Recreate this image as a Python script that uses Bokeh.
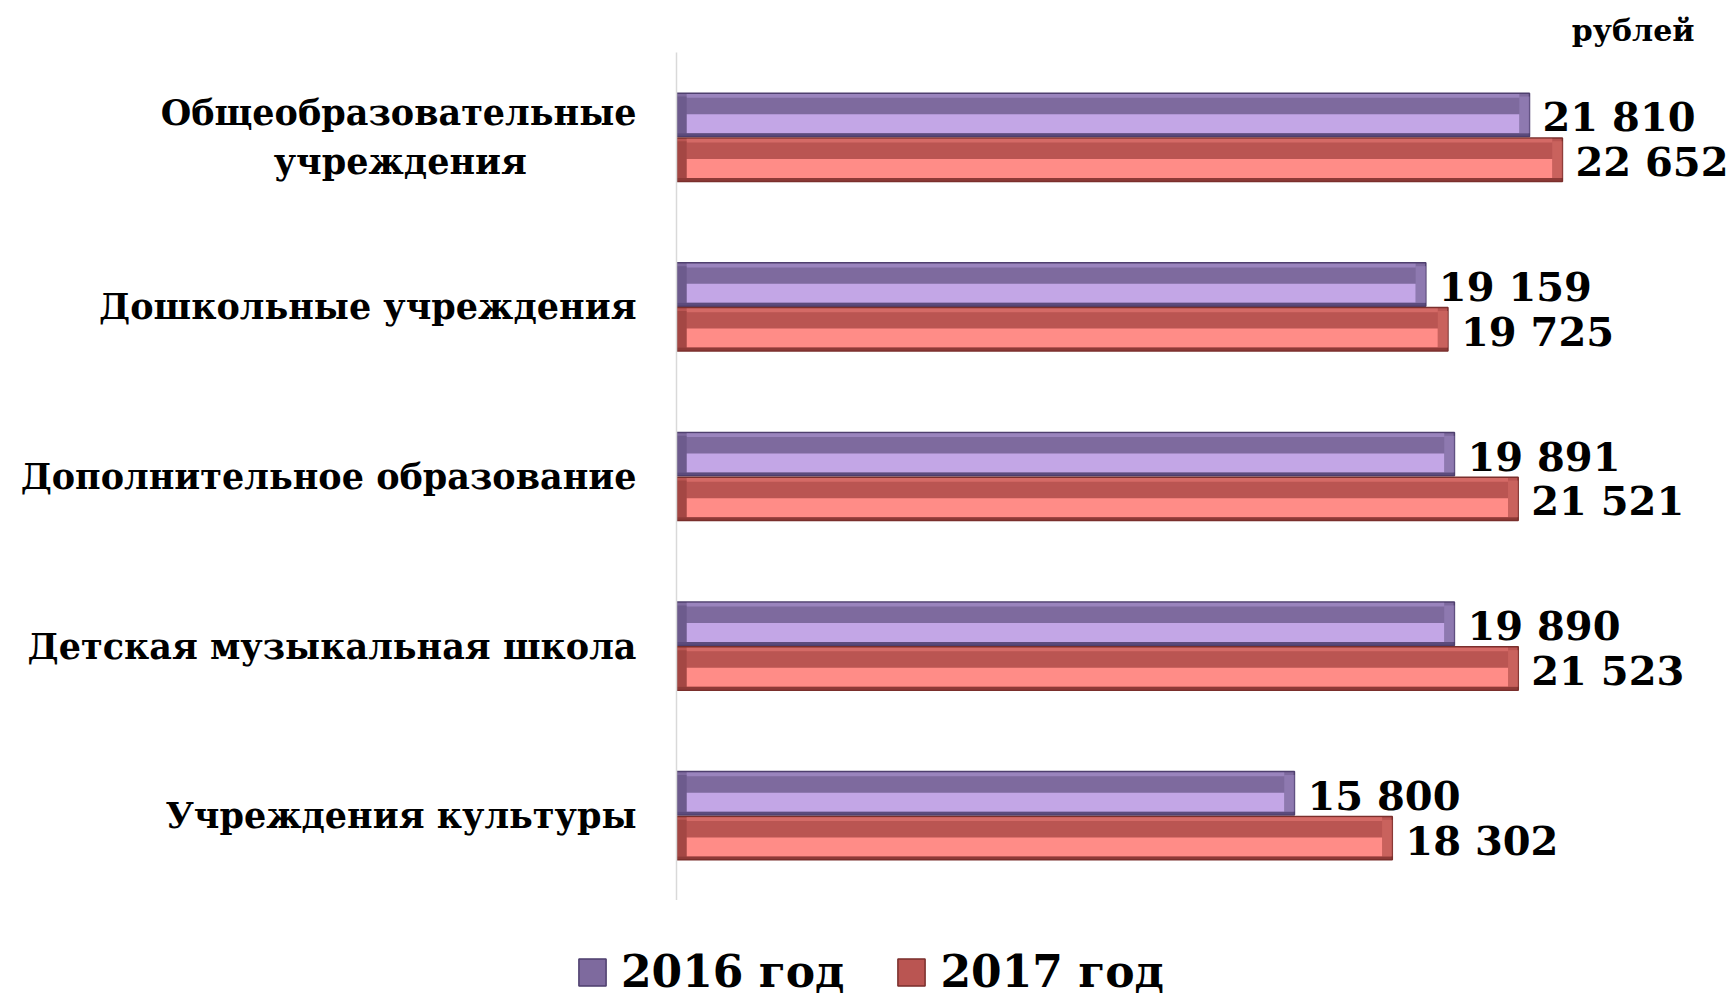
from bokeh.plotting import figure
from bokeh.layouts import column
from bokeh.models import (FactorRange, Range1d, ColumnDataSource, Legend, LegendItem, Title)
from bokeh.transform import dodge
from bokeh.core.properties import value
from bokeh.embed import file_html
from bokeh.resources import INLINE

NB = "\u00a0"
categories = ["Общеобразовательные\n" + NB * 9 + "учреждения" + NB * 9, "Дошкольные учреждения",
              "Дополнительное образование", "Детская музыкальная школа",
              "Учреждения культуры"]
values_2016 = [21810, 19159, 19891, 19890, 15800]
values_2017 = [22652, 19725, 21521, 21523, 18302]
series_names = ["2016 год", "2017 год"]
unit_label = "рублей"

FONT = "DejaVu Serif"

def fmt(v):
    return f"{v:,}".replace(",", " ")

inset = 260
src = ColumnDataSource(dict(
    cat=categories,
    v16=values_2016, v17=values_2017,
    v16i=[v - inset for v in values_2016], v17i=[v - inset for v in values_2017],
    t16=[fmt(v) for v in values_2016], t17=[fmt(v) for v in values_2017],
))

p = figure(width=1733, height=900, output_backend="svg", toolbar_location=None,
           y_range=FactorRange(factors=categories[::-1], range_padding=0),
           x_range=Range1d(0, 27026),
           min_border_left=676, min_border_right=0, min_border_top=52, min_border_bottom=0)
p.frame_align = False
p.outline_line_color = None
p.xaxis.visible = False
p.xgrid.visible = False
p.ygrid.visible = False
p.background_fill_color = "white"

yax = p.yaxis[0]
yax.axis_line_color = "#D9D9D9"
yax.axis_line_width = 1.5
yax.major_tick_line_color = None
yax.minor_tick_line_color = None
yax.major_label_standoff = 34
yax.major_label_text_font = FONT
yax.major_label_text_font_style = "bold"
yax.major_label_text_font_size = "35px"
yax.major_label_text_color = "black"

off = 0.132
H = 0.256
specs = [
    ("v16", "v16i", "t16", +off, "#7E6A9E", "#C3A6E6", "#4E3F6E", "#9A84BD"),
    ("v17", "v17i", "t17", -off, "#BA5552", "#FF8C87", "#7A2F2C", "#D46A66"),
]
for val, vali, txt, d, dark, light, edge, top in specs:
    p.hbar(y=dodge("cat", d, range=p.y_range), left=0, right=val, height=H,
           source=src, fill_color=dark, line_color=edge, line_width=1.5)
    p.hbar(y=dodge("cat", d + 0.112, range=p.y_range), left=inset, right=vali, height=0.022,
           source=src, fill_color=top, line_color=None)
    p.hbar(y=dodge("cat", d - 0.052, range=p.y_range), left=inset, right=vali, height=0.112,
           source=src, fill_color=light, line_color=None)
    p.hbar(y=dodge("cat", d - 0.117, range=p.y_range), left=0, right=val, height=0.018,
           source=src, fill_color=edge, line_color=None, fill_alpha=0.7)
    p.hbar(y=dodge("cat", d, range=p.y_range), left=vali, right=val, height=H - 0.04,
           source=src, fill_color=top, line_color=None, fill_alpha=0.6)
    p.hbar(y=dodge("cat", d, range=p.y_range), left=0, right=inset, height=H - 0.04,
           source=src, fill_color=edge, line_color=None, fill_alpha=0.35)
    p.text(x=val, y=dodge("cat", d - 0.012, range=p.y_range), text=txt, source=src,
           x_offset=13, text_baseline="middle", text_align="left",
           text_font=value(FONT), text_font_style="bold", text_font_size="40px",
           text_color="black")

p.add_layout(Title(text=unit_label, align="right", offset=39, text_font=FONT,
                   text_font_style="bold", text_font_size="30px", text_color="black"), "above")

# legend strip below the chart
lf = figure(width=1733, height=97, output_backend="svg", toolbar_location=None,
            x_range=Range1d(0, 1), y_range=Range1d(0, 1),
            min_border_left=0, min_border_right=0, min_border_top=0, min_border_bottom=0)
lf.frame_align = False
lf.axis.visible = False
lf.grid.visible = False
lf.outline_line_color = None
lr = []
for _, _, _, _, dark, light, edge, top in specs:
    lr.append(lf.rect(x=[-5], y=[-5], width=0.1, height=0.1,
                      fill_color=dark, line_color=edge, line_width=1.5))

legend = Legend(items=[LegendItem(label=series_names[0], renderers=[lr[0]]),
                       LegendItem(label=series_names[1], renderers=[lr[1]])],
                orientation="horizontal", location=(575, 0),
                glyph_width=34, glyph_height=34, label_standoff=12, spacing=50,
                padding=0, margin=0, border_line_color=None, background_fill_alpha=0,
                label_text_font=FONT, label_text_font_style="bold",
                label_text_font_size="44px", label_text_color="black")
lf.add_layout(legend, "center")

open("out.html", "w").write(file_html(column(p, lf, spacing=0), INLINE))
